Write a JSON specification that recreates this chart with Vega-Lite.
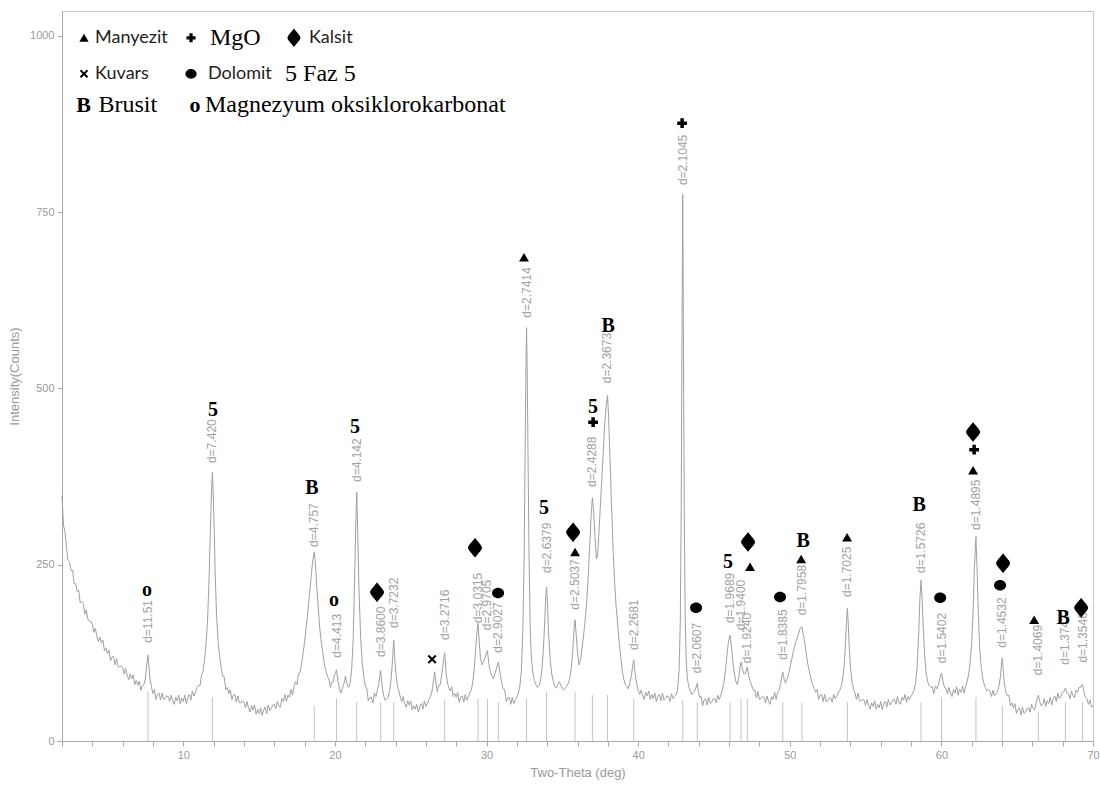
{
  "$schema": "https://vega.github.io/schema/vega-lite/v6.json",
  "width": 1031,
  "height": 730,
  "autosize": {"type": "none"},
  "padding": {"left": 62, "top": 11, "right": 7, "bottom": 46},
  "background": "white",
  "config": {
    "view": {"stroke": "#c8c8c8", "strokeWidth": 1},
    "axis": {"domainColor": "#a8a8a8", "tickColor": "#a8a8a8", "labelColor": "#9a9a9a", "titleColor": "#9a9a9a", "labelFont": "Liberation Sans", "titleFont": "Liberation Sans", "labelFontSize": 11, "titleFontSize": 13, "titleFontWeight": "normal", "grid": false, "tickSize": 5, "labelPadding": 3}
  },
  "datasets": {
    "trace": [
      {"t":2.0,"y":348},{"t":2.1,"y":306},{"t":2.2,"y":296},{"t":2.3,"y":273},{"t":2.4,"y":256},{"t":2.5,"y":254},{"t":2.6,"y":241},{"t":2.7,"y":242},{"t":2.8,"y":223},{"t":2.9,"y":223},
      {"t":3.0,"y":212},{"t":3.1,"y":214},{"t":3.2,"y":196},{"t":3.3,"y":198},{"t":3.4,"y":195},{"t":3.5,"y":180},{"t":3.6,"y":186},{"t":3.7,"y":173},{"t":3.8,"y":170},{"t":3.9,"y":170},
      {"t":4.0,"y":165},{"t":4.1,"y":154},{"t":4.2,"y":160},{"t":4.3,"y":148},{"t":4.4,"y":141},{"t":4.5,"y":147},{"t":4.6,"y":139},{"t":4.7,"y":143},{"t":4.8,"y":128},{"t":4.9,"y":132},
      {"t":5.0,"y":124},{"t":5.1,"y":129},{"t":5.2,"y":114},{"t":5.3,"y":119},{"t":5.4,"y":120},{"t":5.5,"y":108},{"t":5.6,"y":117},{"t":5.7,"y":105},{"t":5.8,"y":105},{"t":5.9,"y":106},
      {"t":6.0,"y":104},{"t":6.1,"y":95},{"t":6.2,"y":103},{"t":6.3,"y":93},{"t":6.4,"y":87},{"t":6.5,"y":95},{"t":6.6,"y":88},{"t":6.7,"y":94},{"t":6.8,"y":80},{"t":6.9,"y":86},
      {"t":7.0,"y":79},{"t":7.1,"y":85},{"t":7.2,"y":72},{"t":7.3,"y":78},{"t":7.4,"y":80},{"t":7.5,"y":88},{"t":7.55,"y":100},{"t":7.6,"y":110},{"t":7.675,"y":122},{"t":7.75,"y":102},{"t":7.8,"y":88},{"t":7.9,"y":77},
      {"t":8.0,"y":67},{"t":8.1,"y":73},{"t":8.2,"y":59},{"t":8.3,"y":66},{"t":8.4,"y":68},{"t":8.5,"y":58},{"t":8.6,"y":68},{"t":8.7,"y":59},{"t":8.8,"y":60},{"t":8.9,"y":64},
      {"t":9.0,"y":63},{"t":9.1,"y":56},{"t":9.2,"y":65},{"t":9.3,"y":57},{"t":9.4,"y":52},{"t":9.5,"y":62},{"t":9.6,"y":57},{"t":9.7,"y":65},{"t":9.8,"y":53},{"t":9.9,"y":61},
      {"t":10.0,"y":56},{"t":10.1,"y":65},{"t":10.2,"y":53},{"t":10.3,"y":62},{"t":10.4,"y":66},{"t":10.5,"y":58},{"t":10.6,"y":71},{"t":10.7,"y":64},{"t":10.8,"y":69},{"t":10.9,"y":76},
      {"t":11.0,"y":79},{"t":11.1,"y":78},{"t":11.2,"y":94},{"t":11.3,"y":98},{"t":11.4,"y":115},{"t":11.5,"y":138},{"t":11.6,"y":170},{"t":11.7,"y":230},{"t":11.8,"y":310},{"t":11.87,"y":360},{"t":11.92,"y":381},{"t":11.97,"y":355},
      {"t":12.05,"y":290},{"t":12.1,"y":240},{"t":12.2,"y":175},{"t":12.3,"y":140},{"t":12.4,"y":120},{"t":12.5,"y":104},{"t":12.6,"y":92},{"t":12.7,"y":91},{"t":12.8,"y":73},{"t":12.9,"y":76},
      {"t":13.0,"y":67},{"t":13.1,"y":73},{"t":13.2,"y":59},{"t":13.3,"y":65},{"t":13.4,"y":66},{"t":13.5,"y":55},{"t":13.6,"y":64},{"t":13.7,"y":54},{"t":13.8,"y":54},{"t":13.9,"y":57},
      {"t":14.0,"y":55},{"t":14.1,"y":47},{"t":14.2,"y":56},{"t":14.3,"y":47},{"t":14.4,"y":41},{"t":14.5,"y":50},{"t":14.6,"y":44},{"t":14.7,"y":51},{"t":14.8,"y":38},{"t":14.9,"y":45},
      {"t":15.0,"y":39},{"t":15.1,"y":47},{"t":15.2,"y":36},{"t":15.3,"y":44},{"t":15.4,"y":48},{"t":15.5,"y":39},{"t":15.6,"y":51},{"t":15.7,"y":43},{"t":15.8,"y":46},{"t":15.9,"y":51},
      {"t":16.0,"y":52},{"t":16.1,"y":46},{"t":16.2,"y":56},{"t":16.3,"y":50},{"t":16.4,"y":48},{"t":16.5,"y":60},{"t":16.6,"y":56},{"t":16.7,"y":66},{"t":16.8,"y":56},{"t":16.9,"y":65},
      {"t":17.0,"y":62},{"t":17.1,"y":73},{"t":17.2,"y":65},{"t":17.3,"y":77},{"t":17.4,"y":84},{"t":17.5,"y":80},{"t":17.6,"y":96},{"t":17.7,"y":97},{"t":17.8,"y":110},{"t":17.9,"y":124},
      {"t":18.0,"y":140},{"t":18.1,"y":160},{"t":18.2,"y":180},{"t":18.3,"y":203},{"t":18.4,"y":225},{"t":18.5,"y":248},{"t":18.58,"y":262},{"t":18.64,"y":268},{"t":18.7,"y":255},{"t":18.8,"y":220},{"t":18.9,"y":190},
      {"t":19.0,"y":160},{"t":19.1,"y":140},{"t":19.2,"y":125},{"t":19.3,"y":110},{"t":19.4,"y":100},{"t":19.5,"y":92},{"t":19.6,"y":88},{"t":19.7,"y":76},{"t":19.8,"y":84},{"t":19.9,"y":84},{"t":19.95,"y":92},
      {"t":20.05,"y":97},{"t":20.1,"y":101},{"t":20.2,"y":85},{"t":20.3,"y":74},{"t":20.4,"y":68},{"t":20.5,"y":75},{"t":20.6,"y":82},{"t":20.7,"y":92},{"t":20.8,"y":80},{"t":20.9,"y":76},
      {"t":21.0,"y":82},{"t":21.1,"y":100},{"t":21.2,"y":140},{"t":21.3,"y":230},{"t":21.38,"y":310},{"t":21.44,"y":353},{"t":21.5,"y":300},{"t":21.58,"y":220},{"t":21.7,"y":145},{"t":21.8,"y":112},{"t":21.9,"y":92},
      {"t":22.0,"y":78},{"t":22.1,"y":75},{"t":22.2,"y":57},{"t":22.3,"y":61},{"t":22.4,"y":62},{"t":22.5,"y":54},{"t":22.6,"y":68},{"t":22.7,"y":63},{"t":22.8,"y":72},{"t":22.9,"y":82},{"t":22.96,"y":92},
      {"t":23.02,"y":100},{"t":23.1,"y":80},{"t":23.2,"y":65},{"t":23.3,"y":58},{"t":23.4,"y":59},{"t":23.5,"y":62},{"t":23.6,"y":70},{"t":23.7,"y":85},{"t":23.8,"y":115},{"t":23.88,"y":143},{"t":23.95,"y":115},
      {"t":24.05,"y":90},{"t":24.15,"y":76},{"t":24.3,"y":64},{"t":24.4,"y":56},{"t":24.5,"y":63},{"t":24.6,"y":53},{"t":24.7,"y":48},{"t":24.8,"y":57},{"t":24.9,"y":51},
      {"t":25.0,"y":57},{"t":25.1,"y":44},{"t":25.2,"y":50},{"t":25.3,"y":45},{"t":25.4,"y":52},{"t":25.5,"y":41},{"t":25.6,"y":49},{"t":25.7,"y":53},{"t":25.8,"y":45},{"t":25.9,"y":57},
      {"t":26.0,"y":49},{"t":26.1,"y":53},{"t":26.2,"y":59},{"t":26.3,"y":63},{"t":26.4,"y":70},{"t":26.5,"y":85},{"t":26.58,"y":98},{"t":26.65,"y":85},{"t":26.75,"y":70},{"t":26.85,"y":79},{"t":26.95,"y":80},
      {"t":27.05,"y":95},{"t":27.15,"y":112},{"t":27.24,"y":125},{"t":27.32,"y":100},{"t":27.4,"y":85},{"t":27.5,"y":76},{"t":27.6,"y":71},{"t":27.7,"y":77},{"t":27.8,"y":63},{"t":27.9,"y":68},
      {"t":28.0,"y":62},{"t":28.1,"y":69},{"t":28.2,"y":55},{"t":28.3,"y":62},{"t":28.4,"y":64},{"t":28.5,"y":55},{"t":28.6,"y":66},{"t":28.7,"y":58},{"t":28.8,"y":62},{"t":28.9,"y":69},
      {"t":29.0,"y":72},{"t":29.1,"y":85},{"t":29.2,"y":105},{"t":29.3,"y":135},{"t":29.37,"y":155},{"t":29.44,"y":167},{"t":29.52,"y":140},{"t":29.6,"y":118},{"t":29.7,"y":108},{"t":29.8,"y":112},{"t":29.9,"y":118},
      {"t":30.0,"y":125},{"t":30.06,"y":128},{"t":30.15,"y":110},{"t":30.25,"y":98},{"t":30.35,"y":92},{"t":30.45,"y":88},{"t":30.55,"y":95},{"t":30.65,"y":102},{"t":30.78,"y":112},{"t":30.9,"y":95},
      {"t":31.0,"y":82},{"t":31.1,"y":74},{"t":31.2,"y":73},{"t":31.3,"y":56},{"t":31.4,"y":61},{"t":31.5,"y":62},{"t":31.6,"y":52},{"t":31.7,"y":62},{"t":31.8,"y":53},{"t":31.9,"y":58},
      {"t":32.0,"y":62},{"t":32.1,"y":68},{"t":32.2,"y":78},{"t":32.3,"y":100},{"t":32.4,"y":160},{"t":32.48,"y":260},{"t":32.55,"y":420},{"t":32.6,"y":530},{"t":32.64,"y":586},{"t":32.68,"y":530},{"t":32.73,"y":420},{"t":32.8,"y":270},{"t":32.88,"y":160},{"t":32.95,"y":120},
      {"t":33.05,"y":98},{"t":33.15,"y":86},{"t":33.25,"y":80},{"t":33.35,"y":76},{"t":33.45,"y":78},{"t":33.55,"y":84},{"t":33.65,"y":100},{"t":33.75,"y":130},{"t":33.85,"y":175},{"t":33.92,"y":210},{"t":33.96,"y":218},
      {"t":34.02,"y":195},{"t":34.1,"y":150},{"t":34.2,"y":115},{"t":34.3,"y":95},{"t":34.4,"y":85},{"t":34.5,"y":78},{"t":34.6,"y":75},{"t":34.7,"y":80},{"t":34.8,"y":84},{"t":34.9,"y":79},
      {"t":35.0,"y":74},{"t":35.1,"y":72},{"t":35.2,"y":76},{"t":35.3,"y":78},{"t":35.4,"y":82},{"t":35.5,"y":90},{"t":35.6,"y":105},{"t":35.7,"y":132},{"t":35.78,"y":160},{"t":35.84,"y":172},{"t":35.9,"y":155},
      {"t":36.0,"y":125},{"t":36.1,"y":108},{"t":36.2,"y":115},{"t":36.3,"y":132},{"t":36.4,"y":150},{"t":36.5,"y":170},{"t":36.6,"y":195},{"t":36.7,"y":230},{"t":36.8,"y":275},{"t":36.9,"y":320},{"t":36.98,"y":345},
      {"t":37.05,"y":330},{"t":37.15,"y":290},{"t":37.25,"y":258},{"t":37.32,"y":262},{"t":37.4,"y":290},{"t":37.5,"y":330},{"t":37.6,"y":370},{"t":37.7,"y":410},{"t":37.8,"y":450},{"t":37.9,"y":478},{"t":37.98,"y":490},
      {"t":38.05,"y":460},{"t":38.15,"y":395},{"t":38.25,"y":330},{"t":38.35,"y":270},{"t":38.45,"y":225},{"t":38.55,"y":190},{"t":38.65,"y":165},{"t":38.75,"y":140},{"t":38.85,"y":120},{"t":38.95,"y":100},
      {"t":39.05,"y":88},{"t":39.15,"y":80},{"t":39.25,"y":78},{"t":39.35,"y":74},{"t":39.45,"y":82},{"t":39.55,"y":92},{"t":39.63,"y":105},{"t":39.71,"y":115},{"t":39.8,"y":95},{"t":39.9,"y":82},
      {"t":40.0,"y":72},{"t":40.1,"y":66},{"t":40.2,"y":72},{"t":40.3,"y":64},{"t":40.4,"y":59},{"t":40.5,"y":69},{"t":40.6,"y":64},{"t":40.7,"y":71},{"t":40.8,"y":59},{"t":40.9,"y":66},
      {"t":41.0,"y":60},{"t":41.1,"y":68},{"t":41.2,"y":56},{"t":41.3,"y":63},{"t":41.4,"y":66},{"t":41.5,"y":57},{"t":41.6,"y":68},{"t":41.7,"y":58},{"t":41.8,"y":60},{"t":41.9,"y":64},
      {"t":42.0,"y":63},{"t":42.1,"y":56},{"t":42.2,"y":67},{"t":42.3,"y":60},{"t":42.4,"y":63},{"t":42.5,"y":66},{"t":42.6,"y":72},{"t":42.7,"y":100},{"t":42.78,"y":170},{"t":42.84,"y":330},{"t":42.89,"y":560},{"t":42.94,"y":775},{"t":42.99,"y":560},
      {"t":43.04,"y":330},{"t":43.1,"y":180},{"t":43.17,"y":115},{"t":43.25,"y":88},{"t":43.35,"y":76},{"t":43.45,"y":70},{"t":43.55,"y":66},{"t":43.65,"y":69},{"t":43.75,"y":72},{"t":43.85,"y":78},{"t":43.9,"y":82},{"t":43.97,"y":70},
      {"t":44.05,"y":62},{"t":44.15,"y":63},{"t":44.25,"y":50},{"t":44.35,"y":58},{"t":44.45,"y":60},{"t":44.55,"y":51},{"t":44.65,"y":62},{"t":44.75,"y":53},{"t":44.85,"y":55},{"t":44.95,"y":60},
      {"t":45.05,"y":60},{"t":45.15,"y":54},{"t":45.25,"y":65},{"t":45.35,"y":59},{"t":45.45,"y":65},{"t":45.55,"y":72},{"t":45.65,"y":82},{"t":45.75,"y":98},{"t":45.85,"y":120},{"t":45.95,"y":140},
      {"t":46.06,"y":150},{"t":46.15,"y":135},{"t":46.25,"y":112},{"t":46.35,"y":95},{"t":46.45,"y":84},{"t":46.55,"y":80},{"t":46.65,"y":92},{"t":46.72,"y":105},{"t":46.79,"y":112},{"t":46.88,"y":102},{"t":46.98,"y":95},
      {"t":47.08,"y":96},{"t":47.2,"y":105},{"t":47.3,"y":92},{"t":47.4,"y":84},{"t":47.5,"y":78},{"t":47.6,"y":72},{"t":47.7,"y":72},{"t":47.8,"y":61},{"t":47.9,"y":70},
      {"t":48.0,"y":59},{"t":48.1,"y":60},{"t":48.2,"y":63},{"t":48.3,"y":62},{"t":48.4,"y":54},{"t":48.5,"y":64},{"t":48.6,"y":56},{"t":48.7,"y":52},{"t":48.8,"y":63},{"t":48.9,"y":59},
      {"t":49.0,"y":69},{"t":49.1,"y":59},{"t":49.2,"y":69},{"t":49.3,"y":72},{"t":49.4,"y":82},{"t":49.47,"y":92},{"t":49.54,"y":98},{"t":49.62,"y":88},{"t":49.72,"y":82},{"t":49.82,"y":88},{"t":49.92,"y":95},
      {"t":50.02,"y":105},{"t":50.12,"y":115},{"t":50.22,"y":125},{"t":50.32,"y":135},{"t":50.42,"y":142},{"t":50.52,"y":148},{"t":50.62,"y":155},{"t":50.7,"y":160},{"t":50.8,"y":162},{"t":50.9,"y":150},
      {"t":51.0,"y":138},{"t":51.1,"y":122},{"t":51.2,"y":108},{"t":51.3,"y":98},{"t":51.4,"y":88},{"t":51.5,"y":80},{"t":51.6,"y":75},{"t":51.7,"y":69},{"t":51.8,"y":73},{"t":51.9,"y":59},
      {"t":52.0,"y":65},{"t":52.1,"y":66},{"t":52.2,"y":56},{"t":52.3,"y":66},{"t":52.4,"y":56},{"t":52.5,"y":57},{"t":52.6,"y":61},{"t":52.7,"y":61},{"t":52.8,"y":55},{"t":52.9,"y":66},
      {"t":53.0,"y":60},{"t":53.1,"y":64},{"t":53.2,"y":68},{"t":53.3,"y":72},{"t":53.4,"y":78},{"t":53.5,"y":90},{"t":53.6,"y":110},{"t":53.68,"y":140},{"t":53.75,"y":172},{"t":53.8,"y":188},{"t":53.86,"y":165},{"t":53.93,"y":130},
      {"t":54.0,"y":105},{"t":54.1,"y":85},{"t":54.2,"y":74},{"t":54.3,"y":68},{"t":54.4,"y":59},{"t":54.5,"y":68},{"t":54.6,"y":57},{"t":54.7,"y":57},{"t":54.8,"y":59},{"t":54.9,"y":58},
      {"t":55.0,"y":50},{"t":55.1,"y":59},{"t":55.2,"y":50},{"t":55.3,"y":45},{"t":55.4,"y":54},{"t":55.5,"y":49},{"t":55.6,"y":57},{"t":55.7,"y":45},{"t":55.8,"y":52},{"t":55.9,"y":47},
      {"t":56.0,"y":56},{"t":56.1,"y":44},{"t":56.2,"y":53},{"t":56.3,"y":56},{"t":56.4,"y":48},{"t":56.5,"y":59},{"t":56.6,"y":51},{"t":56.7,"y":54},{"t":56.8,"y":58},{"t":56.9,"y":59},
      {"t":57.0,"y":52},{"t":57.1,"y":63},{"t":57.2,"y":55},{"t":57.3,"y":52},{"t":57.4,"y":62},{"t":57.5,"y":58},{"t":57.6,"y":66},{"t":57.7,"y":55},{"t":57.8,"y":63},{"t":57.9,"y":59},
      {"t":58.0,"y":64},{"t":58.1,"y":67},{"t":58.2,"y":72},{"t":58.3,"y":82},{"t":58.4,"y":105},{"t":58.5,"y":150},{"t":58.58,"y":200},{"t":58.66,"y":228},{"t":58.72,"y":205},{"t":58.8,"y":165},{"t":58.9,"y":120},
      {"t":59.0,"y":95},{"t":59.1,"y":84},{"t":59.2,"y":78},{"t":59.3,"y":76},{"t":59.4,"y":77},{"t":59.5,"y":67},{"t":59.6,"y":78},{"t":59.7,"y":74},{"t":59.8,"y":80},{"t":59.9,"y":88},{"t":59.96,"y":94},
      {"t":60.02,"y":96},{"t":60.1,"y":85},{"t":60.2,"y":76},{"t":60.3,"y":75},{"t":60.4,"y":67},{"t":60.5,"y":76},{"t":60.6,"y":68},{"t":60.7,"y":63},{"t":60.8,"y":73},{"t":60.9,"y":68},
      {"t":61.0,"y":77},{"t":61.1,"y":65},{"t":61.2,"y":73},{"t":61.3,"y":69},{"t":61.4,"y":78},{"t":61.5,"y":68},{"t":61.6,"y":78},{"t":61.7,"y":84},{"t":61.8,"y":95},{"t":61.9,"y":112},
      {"t":62.0,"y":140},{"t":62.1,"y":190},{"t":62.18,"y":245},{"t":62.28,"y":290},{"t":62.36,"y":240},{"t":62.44,"y":180},{"t":62.52,"y":135},{"t":62.6,"y":110},{"t":62.7,"y":92},{"t":62.8,"y":82},{"t":62.9,"y":76},
      {"t":63.0,"y":71},{"t":63.1,"y":73},{"t":63.2,"y":71},{"t":63.3,"y":63},{"t":63.4,"y":72},{"t":63.5,"y":64},{"t":63.6,"y":67},{"t":63.7,"y":70},{"t":63.8,"y":78},{"t":63.9,"y":92},{"t":63.96,"y":108},
      {"t":64.02,"y":118},{"t":64.08,"y":100},{"t":64.15,"y":82},{"t":64.25,"y":70},{"t":64.35,"y":64},{"t":64.45,"y":65},{"t":64.55,"y":50},{"t":64.65,"y":54},{"t":64.75,"y":47},{"t":64.85,"y":53},{"t":64.95,"y":39},
      {"t":65.05,"y":45},{"t":65.15,"y":47},{"t":65.25,"y":37},{"t":65.35,"y":48},{"t":65.45,"y":39},{"t":65.55,"y":41},{"t":65.65,"y":46},{"t":65.75,"y":47},{"t":65.85,"y":41},{"t":65.95,"y":52},
      {"t":66.05,"y":46},{"t":66.15,"y":44},{"t":66.25,"y":54},{"t":66.32,"y":60},{"t":66.4,"y":65},{"t":66.48,"y":56},{"t":66.58,"y":50},{"t":66.68,"y":51},{"t":66.78,"y":60},{"t":66.88,"y":49},{"t":66.98,"y":57},
      {"t":67.08,"y":53},{"t":67.18,"y":62},{"t":67.28,"y":51},{"t":67.38,"y":60},{"t":67.48,"y":64},{"t":67.58,"y":56},{"t":67.68,"y":68},{"t":67.78,"y":60},{"t":67.88,"y":63},{"t":67.98,"y":69},
      {"t":68.08,"y":70},{"t":68.18,"y":75},{"t":68.28,"y":68},{"t":68.38,"y":67},{"t":68.48,"y":60},{"t":68.58,"y":71},{"t":68.68,"y":64},{"t":68.78,"y":61},{"t":68.88,"y":72},{"t":68.98,"y":69},
      {"t":69.08,"y":76},{"t":69.18,"y":76},{"t":69.24,"y":79},{"t":69.31,"y":80},{"t":69.4,"y":70},{"t":69.5,"y":62},{"t":69.6,"y":60},{"t":69.7,"y":52},{"t":69.8,"y":58},{"t":69.9,"y":48},{"t":70.0,"y":50}
    ],
    "peaks": [
      {"t":7.675,"y":125,"base":70,"label":"d=11.51"},
      {"t":11.918,"y":380,"base":62,"label":"d=7.420"},
      {"t":18.638,"y":261,"base":50,"label":"d=4.757"},
      {"t":20.105,"y":104,"base":60,"label":"d=4.413"},
      {"t":21.435,"y":353,"base":55,"label":"d=4.142"},
      {"t":23.023,"y":105,"base":55,"label":"d=3.8600"},
      {"t":23.881,"y":146,"base":55,"label":"d=3.7232"},
      {"t":27.238,"y":129,"base":58,"label":"d=3.2716"},
      {"t":29.442,"y":153,"base":60,"label":"d=3.0315"},
      {"t":30.06,"y":143,"base":60,"label":"d=2.9705"},
      {"t":30.779,"y":111,"base":55,"label":"d=2.9027"},
      {"t":32.639,"y":586,"base":60,"label":"d=2.7414"},
      {"t":33.957,"y":224,"base":70,"label":"d=2.6379"},
      {"t":35.836,"y":172,"base":70,"label":"d=2.5037"},
      {"t":36.981,"y":346,"base":65,"label":"d=2.4288"},
      {"t":37.978,"y":493,"base":65,"label":"d=2.3673"},
      {"t":39.709,"y":115,"base":60,"label":"d=2.2681"},
      {"t":42.941,"y":774,"base":58,"label":"d=2.1045"},
      {"t":43.9,"y":82,"base":55,"label":"d=2.0607"},
      {"t":46.062,"y":153,"base":55,"label":"d=1.9689"},
      {"t":46.788,"y":143,"base":60,"label":"d=1.9400"},
      {"t":47.202,"y":96,"base":60,"label":"d=1.9240"},
      {"t":49.54,"y":101,"base":55,"label":"d=1.8385"},
      {"t":50.802,"y":164,"base":55,"label":"d=1.7958"},
      {"t":53.802,"y":190,"base":55,"label":"d=1.7025"},
      {"t":58.656,"y":224,"base":55,"label":"d=1.5726"},
      {"t":60.017,"y":96,"base":62,"label":"d=1.5402"},
      {"t":62.28,"y":285,"base":62,"label":"d=1.4895"},
      {"t":64.018,"y":118,"base":50,"label":"d=1.4532"},
      {"t":66.396,"y":79,"base":42,"label":"d=1.4069"},
      {"t":68.181,"y":94,"base":55,"label":"d=1.3743"},
      {"t":69.31,"y":97,"base":55,"label":"d=1.3546"}
    ],
    "markers": [
      {"t":22.78,"y":211,"phase":"Kalsit"},
      {"t":26.41,"y":116,"phase":"Kuvars"},
      {"t":29.24,"y":274,"phase":"Kalsit"},
      {"t":30.76,"y":210,"phase":"Dolomit"},
      {"t":32.47,"y":686,"phase":"Manyezit"},
      {"t":35.71,"y":296,"phase":"Kalsit"},
      {"t":35.84,"y":268,"phase":"Manyezit"},
      {"t":37.03,"y":452,"phase":"MgO"},
      {"t":42.9,"y":876,"phase":"MgO"},
      {"t":43.82,"y":189,"phase":"Dolomit"},
      {"t":47.25,"y":282,"phase":"Kalsit"},
      {"t":47.38,"y":247,"phase":"Manyezit"},
      {"t":49.36,"y":204,"phase":"Dolomit"},
      {"t":50.75,"y":258,"phase":"Manyezit"},
      {"t":53.78,"y":289,"phase":"Manyezit"},
      {"t":59.92,"y":203,"phase":"Dolomit"},
      {"t":62.09,"y":438,"phase":"Kalsit"},
      {"t":62.16,"y":413,"phase":"MgO"},
      {"t":62.09,"y":384,"phase":"Manyezit"},
      {"t":64.07,"y":252,"phase":"Kalsit"},
      {"t":63.87,"y":221,"phase":"Dolomit"},
      {"t":66.12,"y":172,"phase":"Manyezit"},
      {"t":69.22,"y":189,"phase":"Kalsit"}
    ],
    "letters": [
      {"t":7.61,"y":214,"s":"o"},
      {"t":11.96,"y":469,"s":"5"},
      {"t":18.49,"y":359,"s":"B"},
      {"t":19.94,"y":200,"s":"o"},
      {"t":21.33,"y":445,"s":"5"},
      {"t":33.79,"y":330,"s":"5"},
      {"t":37.03,"y":474,"s":"5"},
      {"t":38.02,"y":588,"s":"B"},
      {"t":45.93,"y":254,"s":"5"},
      {"t":50.88,"y":284,"s":"B"},
      {"t":58.53,"y":335,"s":"B"},
      {"t":68.03,"y":174,"s":"B"}
    ],
    "legendSymbols": [
      {"t":3.45,"y":997,"phase":"Manyezit"},
      {"t":10.51,"y":997,"phase":"MgO"},
      {"t":17.3,"y":997,"phase":"Kalsit"},
      {"t":3.45,"y":946,"phase":"Kuvars"},
      {"t":10.51,"y":946,"phase":"Dolomit"}
    ],
    "legendSans": [
      {"t":4.18,"y":997,"s":"Manyezit"},
      {"t":18.29,"y":997,"s":"Kalsit"},
      {"t":4.18,"y":946,"s":"Kuvars"},
      {"t":11.63,"y":946,"s":"Dolomit"}
    ],
    "legendSerif": [
      {"t":11.76,"y":997,"s":"MgO"},
      {"t":16.71,"y":946,"s":"5 Faz 5"},
      {"t":4.4,"y":902,"s":"Brusit"},
      {"t":11.43,"y":902,"s":"Magnezyum oksiklorokarbonat"}
    ],
    "legendBold": [
      {"t":3.42,"y":902,"s":"B"},
      {"t":10.77,"y":902,"s":"o"}
    ]
  },
  "encoding": {
    "x": {"field": "t", "type": "quantitative", "scale": {"domain": [2, 70], "nice": false, "zero": false},
      "axis": {"title": "Two-Theta (deg)", "values": [2,4,6,8,10,12,14,16,18,20,22,24,26,28,30,32,34,36,38,40,42,44,46,48,50,52,54,56,58,60,62,64,66,68,70], "labelExpr": "datum.value % 10 === 0 ? datum.label : ''", "labelOverlap": false, "labelFlush": false, "labelBound": false, "titlePadding": 6}},
    "y": {"field": "y", "type": "quantitative", "scale": {"domain": [0, 1035], "nice": false, "zero": true},
      "axis": {"title": "Intensity(Counts)", "values": [0, 250, 500, 750, 1000], "format": "d", "titlePadding": 8}}
  },
  "layer": [
    {
      "data": {"name": "peaks"},
      "mark": {"type": "rule", "color": "#c4c4c4", "strokeWidth": 1},
      "encoding": {
        "y": {"field": "base", "type": "quantitative", "title": "Intensity(Counts)", "scale": {"domain": [0, 1035], "nice": false, "zero": true}},
        "y2": {"datum": 0}
      }
    },
    {
      "data": {"name": "trace"},
      "mark": {"type": "line", "color": "#a0a0a0", "strokeWidth": 1, "interpolate": "linear"}
    },
    {
      "data": {"name": "peaks"},
      "mark": {"type": "text", "angle": 270, "align": "left", "baseline": "middle", "dx": 10, "font": "Liberation Sans", "fontSize": 12, "color": "#a2a2a2"},
      "encoding": {"text": {"field": "label"}}
    },
    {
      "data": {"name": "markers"},
      "mark": {"type": "point", "filled": true, "color": "black", "opacity": 1, "size": 196, "strokeWidth": 0},
      "encoding": {
        "shape": {"field": "phase", "type": "nominal", "legend": null,
          "scale": {"domain": ["Manyezit", "MgO", "Kalsit", "Kuvars", "Dolomit"],
            "range": ["M0,-0.61L0.71,0.61L-0.71,0.61Z", "M-0.25,-0.7L0.25,-0.7L0.25,-0.25L0.7,-0.25L0.7,0.25L0.25,0.25L0.25,0.7L-0.25,0.7L-0.25,0.25L-0.7,0.25L-0.7,-0.25L-0.25,-0.25Z", "M0,-1.43C0.35,-0.9 1,-0.35 1,0C1,0.35 0.35,0.9 0,1.43C-0.35,0.9 -1,0.35 -1,0C-1,-0.35 -0.35,-0.9 0,-1.43Z", "M-0.64,-0.43L-0.43,-0.64L0,-0.21L0.43,-0.64L0.64,-0.43L0.21,0L0.64,0.43L0.43,0.64L0,0.21L-0.43,0.64L-0.64,0.43L-0.21,0Z", "M-0.86,0A0.86,0.75 0 1,1 0.86,0A0.86,0.75 0 1,1 -0.86,0Z"]}}
      }
    },
    {
      "data": {"name": "letters"},
      "mark": {"type": "text", "font": "Liberation Serif", "fontWeight": "bold", "fontSize": 20, "color": "black", "align": "center", "baseline": "middle"},
      "encoding": {"text": {"field": "s"}}
    },
    {
      "data": {"name": "legendSymbols"},
      "mark": {"type": "point", "filled": true, "color": "black", "opacity": 1, "size": 170, "strokeWidth": 0},
      "encoding": {
        "shape": {"field": "phase", "type": "nominal", "legend": null,
          "scale": {"domain": ["Manyezit", "MgO", "Kalsit", "Kuvars", "Dolomit"],
            "range": ["M0,-0.61L0.71,0.61L-0.71,0.61Z", "M-0.25,-0.7L0.25,-0.7L0.25,-0.25L0.7,-0.25L0.7,0.25L0.25,0.25L0.25,0.7L-0.25,0.7L-0.25,0.25L-0.7,0.25L-0.7,-0.25L-0.25,-0.25Z", "M0,-1.43C0.35,-0.9 1,-0.35 1,0C1,0.35 0.35,0.9 0,1.43C-0.35,0.9 -1,0.35 -1,0C-1,-0.35 -0.35,-0.9 0,-1.43Z", "M-0.64,-0.43L-0.43,-0.64L0,-0.21L0.43,-0.64L0.64,-0.43L0.21,0L0.64,0.43L0.43,0.64L0,0.21L-0.43,0.64L-0.64,0.43L-0.21,0Z", "M-0.86,0A0.86,0.75 0 1,1 0.86,0A0.86,0.75 0 1,1 -0.86,0Z"]}}
      }
    },
    {
      "data": {"name": "legendSans"},
      "mark": {"type": "text", "font": "Lato", "fontSize": 18, "color": "#1e1e1e", "align": "left", "baseline": "middle"},
      "encoding": {"text": {"field": "s"}}
    },
    {
      "data": {"name": "legendSerif"},
      "mark": {"type": "text", "font": "Liberation Serif", "fontSize": 24, "color": "black", "align": "left", "baseline": "middle"},
      "encoding": {"text": {"field": "s"}}
    },
    {
      "data": {"name": "legendBold"},
      "mark": {"type": "text", "font": "Liberation Serif", "fontWeight": "bold", "fontSize": 22, "color": "black", "align": "center", "baseline": "middle"},
      "encoding": {"text": {"field": "s"}}
    }
  ]
}
